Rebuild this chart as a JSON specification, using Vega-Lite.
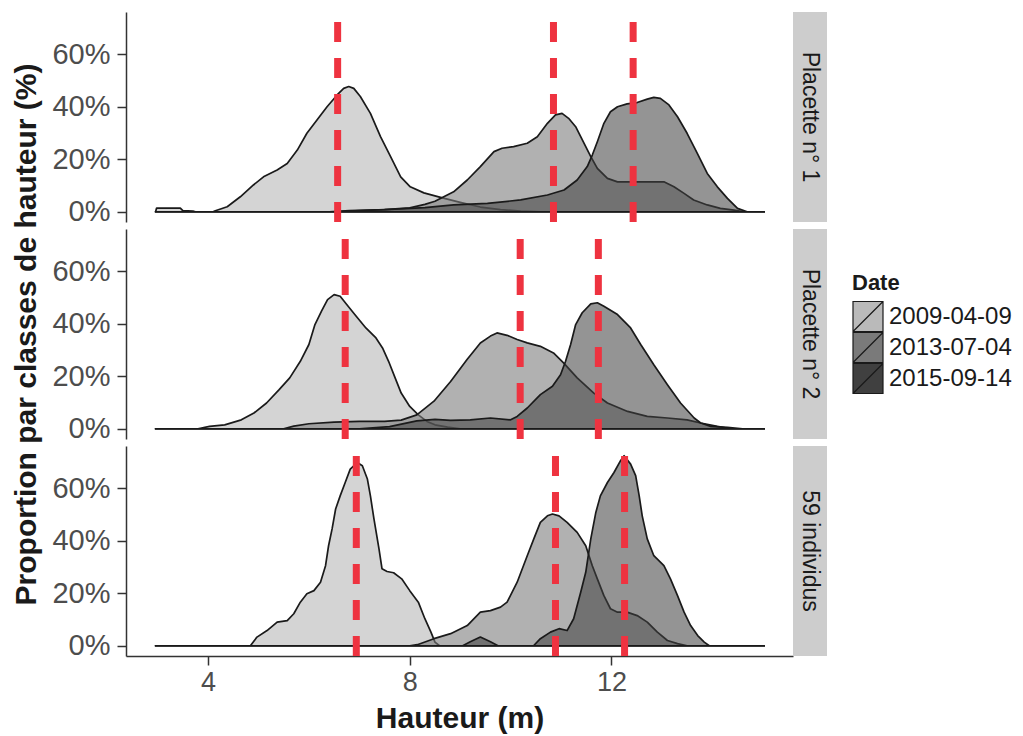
{
  "$schema": "https://vega.github.io/schema/vega-lite/v6.json",
  "padding": {"left": 11, "top": 8, "right": 2, "bottom": 2},
  "background": "white",
  "datasets": {
    "dens": [
      {"panel":"p1","date":"2009-04-09","h":2.96,"p":0},{"panel":"p1","date":"2009-04-09","h":2.98,"p":1.4},{"panel":"p1","date":"2009-04-09","h":3.45,"p":1.4},{"panel":"p1","date":"2009-04-09","h":3.5,"p":0.4},{"panel":"p1","date":"2009-04-09","h":3.7,"p":0.3},{"panel":"p1","date":"2009-04-09","h":3.75,"p":0},{"panel":"p1","date":"2009-04-09","h":4.1,"p":0},{"panel":"p1","date":"2009-04-09","h":4.145,"p":0.4},{"panel":"p1","date":"2009-04-09","h":4.38,"p":1.9},{"panel":"p1","date":"2009-04-09","h":4.64,"p":5.7},{"panel":"p1","date":"2009-04-09","h":4.9,"p":10.2},{"panel":"p1","date":"2009-04-09","h":5.1,"p":13.3},{"panel":"p1","date":"2009-04-09","h":5.37,"p":15.9},{"panel":"p1","date":"2009-04-09","h":5.57,"p":18.4},{"panel":"p1","date":"2009-04-09","h":5.77,"p":23.5},{"panel":"p1","date":"2009-04-09","h":5.96,"p":29.9},{"panel":"p1","date":"2009-04-09","h":6.16,"p":35},{"panel":"p1","date":"2009-04-09","h":6.36,"p":40},{"panel":"p1","date":"2009-04-09","h":6.56,"p":44.5},{"panel":"p1","date":"2009-04-09","h":6.69,"p":47},{"panel":"p1","date":"2009-04-09","h":6.79,"p":47.7},{"panel":"p1","date":"2009-04-09","h":6.89,"p":47},{"panel":"p1","date":"2009-04-09","h":7.02,"p":43.9},{"panel":"p1","date":"2009-04-09","h":7.22,"p":37.5},{"panel":"p1","date":"2009-04-09","h":7.42,"p":28.6},{"panel":"p1","date":"2009-04-09","h":7.62,"p":21},{"panel":"p1","date":"2009-04-09","h":7.82,"p":13.3},{"panel":"p1","date":"2009-04-09","h":8.01,"p":9.5},{"panel":"p1","date":"2009-04-09","h":8.28,"p":7.2},{"panel":"p1","date":"2009-04-09","h":8.61,"p":5.5},{"panel":"p1","date":"2009-04-09","h":9,"p":3.6},{"panel":"p1","date":"2009-04-09","h":9.4,"p":1.8},{"panel":"p1","date":"2009-04-09","h":9.8,"p":0.8},{"panel":"p1","date":"2009-04-09","h":10.2,"p":0.3},{"panel":"p1","date":"2009-04-09","h":10.6,"p":0},{"panel":"p1","date":"2009-04-09","h":15.03,"p":0},
      {"panel":"p1","date":"2013-07-04","h":2.96,"p":0},{"panel":"p1","date":"2013-07-04","h":6.4,"p":0},{"panel":"p1","date":"2013-07-04","h":6.8,"p":0.4},{"panel":"p1","date":"2013-07-04","h":7.5,"p":0.8},{"panel":"p1","date":"2013-07-04","h":8,"p":1.5},{"panel":"p1","date":"2013-07-04","h":8.3,"p":2.8},{"panel":"p1","date":"2013-07-04","h":8.5,"p":4},{"panel":"p1","date":"2013-07-04","h":8.675,"p":5.7},{"panel":"p1","date":"2013-07-04","h":8.87,"p":7.6},{"panel":"p1","date":"2013-07-04","h":9.14,"p":12.1},{"panel":"p1","date":"2013-07-04","h":9.4,"p":17.2},{"panel":"p1","date":"2013-07-04","h":9.67,"p":22.9},{"panel":"p1","date":"2013-07-04","h":9.83,"p":24.2},{"panel":"p1","date":"2013-07-04","h":10.06,"p":24.8},{"panel":"p1","date":"2013-07-04","h":10.33,"p":26.1},{"panel":"p1","date":"2013-07-04","h":10.53,"p":28.6},{"panel":"p1","date":"2013-07-04","h":10.73,"p":33.7},{"panel":"p1","date":"2013-07-04","h":10.89,"p":36.9},{"panel":"p1","date":"2013-07-04","h":11.02,"p":37.5},{"panel":"p1","date":"2013-07-04","h":11.15,"p":35.6},{"panel":"p1","date":"2013-07-04","h":11.29,"p":32.4},{"panel":"p1","date":"2013-07-04","h":11.39,"p":28.6},{"panel":"p1","date":"2013-07-04","h":11.49,"p":24.8},{"panel":"p1","date":"2013-07-04","h":11.59,"p":21},{"panel":"p1","date":"2013-07-04","h":11.72,"p":16.5},{"panel":"p1","date":"2013-07-04","h":11.92,"p":12.7},{"panel":"p1","date":"2013-07-04","h":12.12,"p":11.4},{"panel":"p1","date":"2013-07-04","h":12.44,"p":11.4},{"panel":"p1","date":"2013-07-04","h":13.04,"p":11.4},{"panel":"p1","date":"2013-07-04","h":13.24,"p":9.5},{"panel":"p1","date":"2013-07-04","h":13.44,"p":7},{"panel":"p1","date":"2013-07-04","h":13.63,"p":4.5},{"panel":"p1","date":"2013-07-04","h":13.9,"p":2.6},{"panel":"p1","date":"2013-07-04","h":14.16,"p":1.3},{"panel":"p1","date":"2013-07-04","h":14.43,"p":0.6},{"panel":"p1","date":"2013-07-04","h":14.63,"p":0},{"panel":"p1","date":"2013-07-04","h":15.03,"p":0},
      {"panel":"p1","date":"2015-09-14","h":2.96,"p":0},{"panel":"p1","date":"2015-09-14","h":6.5,"p":0},{"panel":"p1","date":"2015-09-14","h":6.8,"p":0.3},{"panel":"p1","date":"2015-09-14","h":7.5,"p":0.8},{"panel":"p1","date":"2015-09-14","h":8.3,"p":1.6},{"panel":"p1","date":"2015-09-14","h":8.87,"p":2.6},{"panel":"p1","date":"2015-09-14","h":9.54,"p":3.2},{"panel":"p1","date":"2015-09-14","h":10.2,"p":4.5},{"panel":"p1","date":"2015-09-14","h":10.73,"p":6.4},{"panel":"p1","date":"2015-09-14","h":11.06,"p":8.3},{"panel":"p1","date":"2015-09-14","h":11.32,"p":12.1},{"panel":"p1","date":"2015-09-14","h":11.52,"p":17.2},{"panel":"p1","date":"2015-09-14","h":11.62,"p":21.6},{"panel":"p1","date":"2015-09-14","h":11.72,"p":26.7},{"panel":"p1","date":"2015-09-14","h":11.85,"p":33.7},{"panel":"p1","date":"2015-09-14","h":11.98,"p":38.1},{"panel":"p1","date":"2015-09-14","h":12.12,"p":40},{"panel":"p1","date":"2015-09-14","h":12.31,"p":41.1},{"panel":"p1","date":"2015-09-14","h":12.51,"p":41.6},{"panel":"p1","date":"2015-09-14","h":12.71,"p":42.9},{"panel":"p1","date":"2015-09-14","h":12.84,"p":43.6},{"panel":"p1","date":"2015-09-14","h":12.97,"p":43.2},{"panel":"p1","date":"2015-09-14","h":13.14,"p":40.7},{"panel":"p1","date":"2015-09-14","h":13.31,"p":36.2},{"panel":"p1","date":"2015-09-14","h":13.5,"p":29.9},{"panel":"p1","date":"2015-09-14","h":13.7,"p":22.3},{"panel":"p1","date":"2015-09-14","h":13.9,"p":14.6},{"panel":"p1","date":"2015-09-14","h":14.1,"p":9.5},{"panel":"p1","date":"2015-09-14","h":14.3,"p":5.1},{"panel":"p1","date":"2015-09-14","h":14.5,"p":1.3},{"panel":"p1","date":"2015-09-14","h":14.69,"p":0},{"panel":"p1","date":"2015-09-14","h":15.03,"p":0},
      {"panel":"p2","date":"2009-04-09","h":2.96,"p":0},{"panel":"p2","date":"2009-04-09","h":3.8,"p":0},{"panel":"p2","date":"2009-04-09","h":4.03,"p":0.9},{"panel":"p2","date":"2009-04-09","h":4.33,"p":1.5},{"panel":"p2","date":"2009-04-09","h":4.66,"p":3.4},{"panel":"p2","date":"2009-04-09","h":4.91,"p":6},{"panel":"p2","date":"2009-04-09","h":5.16,"p":9.8},{"panel":"p2","date":"2009-04-09","h":5.41,"p":14.9},{"panel":"p2","date":"2009-04-09","h":5.62,"p":19.4},{"panel":"p2","date":"2009-04-09","h":5.83,"p":25.7},{"panel":"p2","date":"2009-04-09","h":6,"p":32.1},{"panel":"p2","date":"2009-04-09","h":6.12,"p":39.7},{"panel":"p2","date":"2009-04-09","h":6.25,"p":44.8},{"panel":"p2","date":"2009-04-09","h":6.37,"p":49.2},{"panel":"p2","date":"2009-04-09","h":6.5,"p":51.1},{"panel":"p2","date":"2009-04-09","h":6.62,"p":50.5},{"panel":"p2","date":"2009-04-09","h":6.75,"p":47.3},{"panel":"p2","date":"2009-04-09","h":6.91,"p":43.5},{"panel":"p2","date":"2009-04-09","h":7.13,"p":38.4},{"panel":"p2","date":"2009-04-09","h":7.33,"p":34.6},{"panel":"p2","date":"2009-04-09","h":7.46,"p":30.8},{"panel":"p2","date":"2009-04-09","h":7.58,"p":25.7},{"panel":"p2","date":"2009-04-09","h":7.71,"p":19.4},{"panel":"p2","date":"2009-04-09","h":7.83,"p":13.6},{"panel":"p2","date":"2009-04-09","h":8,"p":8.5},{"panel":"p2","date":"2009-04-09","h":8.17,"p":5.3},{"panel":"p2","date":"2009-04-09","h":8.34,"p":2.8},{"panel":"p2","date":"2009-04-09","h":8.5,"p":1.5},{"panel":"p2","date":"2009-04-09","h":8.75,"p":0.6},{"panel":"p2","date":"2009-04-09","h":9,"p":0},{"panel":"p2","date":"2009-04-09","h":15.03,"p":0},
      {"panel":"p2","date":"2013-07-04","h":2.96,"p":0},{"panel":"p2","date":"2013-07-04","h":5.5,"p":0},{"panel":"p2","date":"2013-07-04","h":5.7,"p":1},{"panel":"p2","date":"2013-07-04","h":6,"p":1.9},{"panel":"p2","date":"2013-07-04","h":6.5,"p":2.5},{"panel":"p2","date":"2013-07-04","h":7,"p":2.8},{"panel":"p2","date":"2013-07-04","h":7.5,"p":2.8},{"panel":"p2","date":"2013-07-04","h":7.83,"p":3.3},{"panel":"p2","date":"2013-07-04","h":8.14,"p":5.3},{"panel":"p2","date":"2013-07-04","h":8.48,"p":10.5},{"panel":"p2","date":"2013-07-04","h":8.81,"p":18},{"panel":"p2","date":"2013-07-04","h":9.14,"p":26.5},{"panel":"p2","date":"2013-07-04","h":9.4,"p":32.7},{"panel":"p2","date":"2013-07-04","h":9.6,"p":35.3},{"panel":"p2","date":"2013-07-04","h":9.73,"p":36.5},{"panel":"p2","date":"2013-07-04","h":9.93,"p":35.6},{"panel":"p2","date":"2013-07-04","h":10.13,"p":34},{"panel":"p2","date":"2013-07-04","h":10.33,"p":32.7},{"panel":"p2","date":"2013-07-04","h":10.59,"p":31.4},{"panel":"p2","date":"2013-07-04","h":10.85,"p":28.9},{"panel":"p2","date":"2013-07-04","h":11.05,"p":25.1},{"panel":"p2","date":"2013-07-04","h":11.32,"p":19.4},{"panel":"p2","date":"2013-07-04","h":11.65,"p":13.6},{"panel":"p2","date":"2013-07-04","h":11.92,"p":9.8},{"panel":"p2","date":"2013-07-04","h":12.32,"p":6.6},{"panel":"p2","date":"2013-07-04","h":12.71,"p":4.7},{"panel":"p2","date":"2013-07-04","h":13.11,"p":4.1},{"panel":"p2","date":"2013-07-04","h":13.5,"p":3.4},{"panel":"p2","date":"2013-07-04","h":13.77,"p":2.2},{"panel":"p2","date":"2013-07-04","h":14.1,"p":0.9},{"panel":"p2","date":"2013-07-04","h":14.36,"p":0},{"panel":"p2","date":"2013-07-04","h":15.03,"p":0},
      {"panel":"p2","date":"2015-09-14","h":2.96,"p":0},{"panel":"p2","date":"2015-09-14","h":7,"p":0},{"panel":"p2","date":"2015-09-14","h":7.6,"p":0.8},{"panel":"p2","date":"2015-09-14","h":8.14,"p":3},{"panel":"p2","date":"2015-09-14","h":8.5,"p":3.6},{"panel":"p2","date":"2015-09-14","h":8.81,"p":3.2},{"panel":"p2","date":"2015-09-14","h":9.2,"p":3.4},{"panel":"p2","date":"2015-09-14","h":9.6,"p":4.1},{"panel":"p2","date":"2015-09-14","h":10,"p":3.4},{"panel":"p2","date":"2015-09-14","h":10.13,"p":4.7},{"panel":"p2","date":"2015-09-14","h":10.33,"p":7.9},{"panel":"p2","date":"2015-09-14","h":10.59,"p":13},{"panel":"p2","date":"2015-09-14","h":10.83,"p":16.2},{"panel":"p2","date":"2015-09-14","h":10.99,"p":20.6},{"panel":"p2","date":"2015-09-14","h":11.09,"p":25.7},{"panel":"p2","date":"2015-09-14","h":11.19,"p":32.1},{"panel":"p2","date":"2015-09-14","h":11.29,"p":39.7},{"panel":"p2","date":"2015-09-14","h":11.42,"p":44.2},{"panel":"p2","date":"2015-09-14","h":11.59,"p":47.6},{"panel":"p2","date":"2015-09-14","h":11.72,"p":48},{"panel":"p2","date":"2015-09-14","h":11.85,"p":46.7},{"panel":"p2","date":"2015-09-14","h":12.12,"p":43.5},{"panel":"p2","date":"2015-09-14","h":12.38,"p":38.4},{"panel":"p2","date":"2015-09-14","h":12.58,"p":32.1},{"panel":"p2","date":"2015-09-14","h":12.84,"p":24.4},{"panel":"p2","date":"2015-09-14","h":13.11,"p":16.8},{"panel":"p2","date":"2015-09-14","h":13.37,"p":9.8},{"panel":"p2","date":"2015-09-14","h":13.64,"p":4.1},{"panel":"p2","date":"2015-09-14","h":13.77,"p":2.2},{"panel":"p2","date":"2015-09-14","h":13.97,"p":0.9},{"panel":"p2","date":"2015-09-14","h":14.3,"p":0.5},{"panel":"p2","date":"2015-09-14","h":14.6,"p":0},{"panel":"p2","date":"2015-09-14","h":15.03,"p":0},
      {"panel":"p3","date":"2009-04-09","h":2.96,"p":0},{"panel":"p3","date":"2009-04-09","h":4.84,"p":0},{"panel":"p3","date":"2009-04-09","h":4.97,"p":3.3},{"panel":"p3","date":"2009-04-09","h":5.17,"p":5.8},{"panel":"p3","date":"2009-04-09","h":5.37,"p":9},{"panel":"p3","date":"2009-04-09","h":5.57,"p":9.6},{"panel":"p3","date":"2009-04-09","h":5.7,"p":12.2},{"panel":"p3","date":"2009-04-09","h":5.83,"p":16.6},{"panel":"p3","date":"2009-04-09","h":5.96,"p":19.8},{"panel":"p3","date":"2009-04-09","h":6.1,"p":21},{"panel":"p3","date":"2009-04-09","h":6.23,"p":24.2},{"panel":"p3","date":"2009-04-09","h":6.33,"p":30.5},{"panel":"p3","date":"2009-04-09","h":6.39,"p":38.1},{"panel":"p3","date":"2009-04-09","h":6.46,"p":44.5},{"panel":"p3","date":"2009-04-09","h":6.53,"p":52.1},{"panel":"p3","date":"2009-04-09","h":6.62,"p":57.1},{"panel":"p3","date":"2009-04-09","h":6.72,"p":62.2},{"panel":"p3","date":"2009-04-09","h":6.82,"p":67.3},{"panel":"p3","date":"2009-04-09","h":6.96,"p":69.8},{"panel":"p3","date":"2009-04-09","h":7.06,"p":68.6},{"panel":"p3","date":"2009-04-09","h":7.16,"p":63.5},{"panel":"p3","date":"2009-04-09","h":7.22,"p":57.1},{"panel":"p3","date":"2009-04-09","h":7.29,"p":48.3},{"panel":"p3","date":"2009-04-09","h":7.39,"p":36.9},{"panel":"p3","date":"2009-04-09","h":7.45,"p":29.3},{"panel":"p3","date":"2009-04-09","h":7.55,"p":28.3},{"panel":"p3","date":"2009-04-09","h":7.68,"p":27.8},{"panel":"p3","date":"2009-04-09","h":7.84,"p":25.5},{"panel":"p3","date":"2009-04-09","h":8,"p":21},{"panel":"p3","date":"2009-04-09","h":8.17,"p":16.6},{"panel":"p3","date":"2009-04-09","h":8.3,"p":10.3},{"panel":"p3","date":"2009-04-09","h":8.42,"p":5.2},{"panel":"p3","date":"2009-04-09","h":8.5,"p":1.4},{"panel":"p3","date":"2009-04-09","h":8.59,"p":0},{"panel":"p3","date":"2009-04-09","h":15.03,"p":0},
      {"panel":"p3","date":"2013-07-04","h":2.96,"p":0},{"panel":"p3","date":"2013-07-04","h":8,"p":0},{"panel":"p3","date":"2013-07-04","h":8.15,"p":0.4},{"panel":"p3","date":"2013-07-04","h":8.48,"p":2.7},{"panel":"p3","date":"2013-07-04","h":8.81,"p":4.6},{"panel":"p3","date":"2013-07-04","h":9.14,"p":7.7},{"panel":"p3","date":"2013-07-04","h":9.4,"p":12.8},{"panel":"p3","date":"2013-07-04","h":9.6,"p":13.4},{"panel":"p3","date":"2013-07-04","h":9.8,"p":14.7},{"panel":"p3","date":"2013-07-04","h":9.93,"p":16.6},{"panel":"p3","date":"2013-07-04","h":10.13,"p":24.2},{"panel":"p3","date":"2013-07-04","h":10.33,"p":34.3},{"panel":"p3","date":"2013-07-04","h":10.46,"p":40.7},{"panel":"p3","date":"2013-07-04","h":10.59,"p":47},{"panel":"p3","date":"2013-07-04","h":10.73,"p":49.5},{"panel":"p3","date":"2013-07-04","h":10.83,"p":50.2},{"panel":"p3","date":"2013-07-04","h":10.96,"p":49.5},{"panel":"p3","date":"2013-07-04","h":11.12,"p":47},{"panel":"p3","date":"2013-07-04","h":11.32,"p":43.2},{"panel":"p3","date":"2013-07-04","h":11.49,"p":38.1},{"panel":"p3","date":"2013-07-04","h":11.62,"p":30.5},{"panel":"p3","date":"2013-07-04","h":11.72,"p":25.5},{"panel":"p3","date":"2013-07-04","h":11.85,"p":19.1},{"panel":"p3","date":"2013-07-04","h":11.98,"p":14.1},{"panel":"p3","date":"2013-07-04","h":12.12,"p":12.8},{"panel":"p3","date":"2013-07-04","h":12.31,"p":12.8},{"panel":"p3","date":"2013-07-04","h":12.51,"p":11.5},{"panel":"p3","date":"2013-07-04","h":12.71,"p":9},{"panel":"p3","date":"2013-07-04","h":12.91,"p":5.2},{"panel":"p3","date":"2013-07-04","h":13.11,"p":2},{"panel":"p3","date":"2013-07-04","h":13.31,"p":0.8},{"panel":"p3","date":"2013-07-04","h":13.5,"p":0},{"panel":"p3","date":"2013-07-04","h":15.03,"p":0},
      {"panel":"p3","date":"2015-09-14","h":2.96,"p":0},{"panel":"p3","date":"2015-09-14","h":9.05,"p":0},{"panel":"p3","date":"2015-09-14","h":9.2,"p":1.5},{"panel":"p3","date":"2015-09-14","h":9.4,"p":3.3},{"panel":"p3","date":"2015-09-14","h":9.6,"p":1.5},{"panel":"p3","date":"2015-09-14","h":9.75,"p":0},{"panel":"p3","date":"2015-09-14","h":10.4,"p":0},{"panel":"p3","date":"2015-09-14","h":10.46,"p":0.1},{"panel":"p3","date":"2015-09-14","h":10.59,"p":2.7},{"panel":"p3","date":"2015-09-14","h":10.79,"p":5.2},{"panel":"p3","date":"2015-09-14","h":10.96,"p":6.5},{"panel":"p3","date":"2015-09-14","h":11.12,"p":5.8},{"panel":"p3","date":"2015-09-14","h":11.25,"p":10.3},{"panel":"p3","date":"2015-09-14","h":11.39,"p":20.4},{"panel":"p3","date":"2015-09-14","h":11.49,"p":28},{"panel":"p3","date":"2015-09-14","h":11.59,"p":40.7},{"panel":"p3","date":"2015-09-14","h":11.69,"p":50.8},{"panel":"p3","date":"2015-09-14","h":11.78,"p":57.1},{"panel":"p3","date":"2015-09-14","h":11.92,"p":62.2},{"panel":"p3","date":"2015-09-14","h":12.05,"p":66},{"panel":"p3","date":"2015-09-14","h":12.18,"p":70.5},{"panel":"p3","date":"2015-09-14","h":12.25,"p":72.4},{"panel":"p3","date":"2015-09-14","h":12.38,"p":69.2},{"panel":"p3","date":"2015-09-14","h":12.48,"p":64.8},{"panel":"p3","date":"2015-09-14","h":12.55,"p":57.1},{"panel":"p3","date":"2015-09-14","h":12.61,"p":49.5},{"panel":"p3","date":"2015-09-14","h":12.71,"p":40.7},{"panel":"p3","date":"2015-09-14","h":12.84,"p":34.3},{"panel":"p3","date":"2015-09-14","h":13.04,"p":30.5},{"panel":"p3","date":"2015-09-14","h":13.17,"p":25.5},{"panel":"p3","date":"2015-09-14","h":13.31,"p":19.1},{"panel":"p3","date":"2015-09-14","h":13.44,"p":12.8},{"panel":"p3","date":"2015-09-14","h":13.57,"p":7.7},{"panel":"p3","date":"2015-09-14","h":13.71,"p":3.9},{"panel":"p3","date":"2015-09-14","h":13.84,"p":1.4},{"panel":"p3","date":"2015-09-14","h":13.94,"p":0},{"panel":"p3","date":"2015-09-14","h":15.03,"p":0}
    ],
    "vlines": [
      {"panel":"p1","h":6.57},{"panel":"p1","h":10.85},{"panel":"p1","h":12.43},
      {"panel":"p2","h":6.72},{"panel":"p2","h":10.19},{"panel":"p2","h":11.74},
      {"panel":"p3","h":6.94},{"panel":"p3","h":10.89},{"panel":"p3","h":12.26}
    ],
    "strips": [
      {"panel":"p1","label":"Placette n° 1"},
      {"panel":"p2","label":"Placette n° 2"},
      {"panel":"p3","label":"59 individus"}
    ]
  },
  "hconcat": [
    {
      "bounds": "flush",
      "spacing": 7,
      "vconcat": [
        {
          "width": 667, "height": 210,
          "layer": [
            {
              "data": {"name": "dens"},
              "transform": [{"filter": "datum.panel === 'p1'"}],
              "mark": {"type": "area", "stroke": "#1a1a1a", "strokeWidth": 1.7, "strokeJoin": "round"},
              "encoding": {
                "x": {"field": "h", "type": "quantitative", "scale": {"domain": [2.373, 15.6], "nice": false, "zero": false}, "axis": null},
                "y": {"field": "p", "type": "quantitative", "stack": null, "scale": {"domain": [-3.9, 76.1], "nice": false, "zero": false}, "axis": {"values": [0, 20, 40, 60], "labelExpr": "datum.value + '%'", "title": " "}},
                "fill": {"field": "date", "type": "nominal", "title": "Date", "scale": {"domain": ["2009-04-09", "2013-07-04", "2015-09-14"], "range": ["#bababa", "#7a7a7a", "#404040"]}},
                "fillOpacity": {"field": "date", "type": "nominal", "legend": null, "scale": {"domain": ["2009-04-09", "2013-07-04", "2015-09-14"], "range": [0.62, 0.56, 0.53]}}
              }
            },
            {
              "data": {"name": "vlines"},
              "transform": [{"filter": "datum.panel === 'p1'"}],
              "mark": {"type": "rule", "color": "#ee3340", "strokeWidth": 7, "strokeDash": [20, 16], "strokeDashOffset": 26},
              "encoding": {"x": {"field": "h", "type": "quantitative"}}
            }
          ]
        },
        {
          "width": 667, "height": 210,
          "layer": [
            {
              "data": {"name": "dens"},
              "transform": [{"filter": "datum.panel === 'p2'"}],
              "mark": {"type": "area", "stroke": "#1a1a1a", "strokeWidth": 1.7, "strokeJoin": "round"},
              "encoding": {
                "x": {"field": "h", "type": "quantitative", "scale": {"domain": [2.373, 15.6], "nice": false, "zero": false}, "axis": null},
                "y": {"field": "p", "type": "quantitative", "stack": null, "scale": {"domain": [-3.9, 76.1], "nice": false, "zero": false}, "axis": {"values": [0, 20, 40, 60], "labelExpr": "datum.value + '%'", "title": "Proportion par classes de hauteur (%)"}},
                "fill": {"field": "date", "type": "nominal", "title": "Date", "scale": {"domain": ["2009-04-09", "2013-07-04", "2015-09-14"], "range": ["#bababa", "#7a7a7a", "#404040"]}},
                "fillOpacity": {"field": "date", "type": "nominal", "legend": null, "scale": {"domain": ["2009-04-09", "2013-07-04", "2015-09-14"], "range": [0.62, 0.56, 0.53]}}
              }
            },
            {
              "data": {"name": "vlines"},
              "transform": [{"filter": "datum.panel === 'p2'"}],
              "mark": {"type": "rule", "color": "#ee3340", "strokeWidth": 7, "strokeDash": [20, 16], "strokeDashOffset": 26},
              "encoding": {"x": {"field": "h", "type": "quantitative"}}
            }
          ]
        },
        {
          "width": 667, "height": 210,
          "layer": [
            {
              "data": {"name": "dens"},
              "transform": [{"filter": "datum.panel === 'p3'"}],
              "mark": {"type": "area", "stroke": "#1a1a1a", "strokeWidth": 1.7, "strokeJoin": "round"},
              "encoding": {
                "x": {"field": "h", "type": "quantitative", "scale": {"domain": [2.373, 15.6], "nice": false, "zero": false}, "axis": {"values": [4, 8, 12], "title": "Hauteur (m)"}},
                "y": {"field": "p", "type": "quantitative", "stack": null, "scale": {"domain": [-3.9, 76.1], "nice": false, "zero": false}, "axis": {"values": [0, 20, 40, 60], "labelExpr": "datum.value + '%'", "title": " "}},
                "fill": {"field": "date", "type": "nominal", "title": "Date", "scale": {"domain": ["2009-04-09", "2013-07-04", "2015-09-14"], "range": ["#bababa", "#7a7a7a", "#404040"]}},
                "fillOpacity": {"field": "date", "type": "nominal", "legend": null, "scale": {"domain": ["2009-04-09", "2013-07-04", "2015-09-14"], "range": [0.62, 0.56, 0.53]}}
              }
            },
            {
              "data": {"name": "vlines"},
              "transform": [{"filter": "datum.panel === 'p3'"}],
              "mark": {"type": "rule", "color": "#ee3340", "strokeWidth": 7, "strokeDash": [20, 16], "strokeDashOffset": 26},
              "encoding": {"x": {"field": "h", "type": "quantitative"}}
            }
          ]
        }
      ]
    },
    {
      "spacing": 7,
      "vconcat": [
        {"width": 34, "height": 210, "view": {"fill": "#cdcdcd", "stroke": null}, "data": {"name": "strips"}, "transform": [{"filter": "datum.panel === 'p1'"}], "mark": {"type": "text", "angle": 90, "fontSize": 23, "color": "#1a1a1a", "align": "center", "baseline": "middle"}, "encoding": {"text": {"field": "label"}}},
        {"width": 34, "height": 210, "view": {"fill": "#cdcdcd", "stroke": null}, "data": {"name": "strips"}, "transform": [{"filter": "datum.panel === 'p2'"}], "mark": {"type": "text", "angle": 90, "fontSize": 23, "color": "#1a1a1a", "align": "center", "baseline": "middle"}, "encoding": {"text": {"field": "label"}}},
        {"width": 34, "height": 210, "view": {"fill": "#cdcdcd", "stroke": null}, "data": {"name": "strips"}, "transform": [{"filter": "datum.panel === 'p3'"}], "mark": {"type": "text", "angle": 90, "fontSize": 23, "color": "#1a1a1a", "align": "center", "baseline": "middle"}, "encoding": {"text": {"field": "label"}}}
      ]
    }
  ],
  "spacing": 0,
  "resolve": {"scale": {"fill": "shared"}, "legend": {"fill": "shared"}},
  "config": {
    "font": "Liberation Sans",
    "view": {"stroke": null},
    "axis": {
      "grid": false,
      "domainColor": "#333333", "domainWidth": 1.5,
      "tickColor": "#333333", "tickWidth": 1.5, "tickSize": 9,
      "labelColor": "#4d4d4d",
      "titleFontSize": 30, "titleFontWeight": "bold", "titleColor": "#1a1a1a", "titlePadding": 10
    },
    "axisY": {"labelFontSize": 29, "labelPadding": 7},
    "axisX": {"labelFontSize": 27, "labelPadding": 4, "titlePadding": 8},
    "legend": {
      "orient": "none", "legendX": 726, "legendY": 261,
      "titleFontSize": 22, "titleFontWeight": "bold", "titleColor": "#1a1a1a", "titlePadding": 6,
      "labelFontSize": 24, "labelColor": "#1a1a1a", "labelOffset": 5,
      "symbolType": "M-1,-1H1V1H-1Z M-1,1L1,-1", "symbolSize": 900, "symbolStrokeWidth": 1.2, "symbolOpacity": 1,
      "rowPadding": 0, "clipHeight": 31
    }
  }
}
